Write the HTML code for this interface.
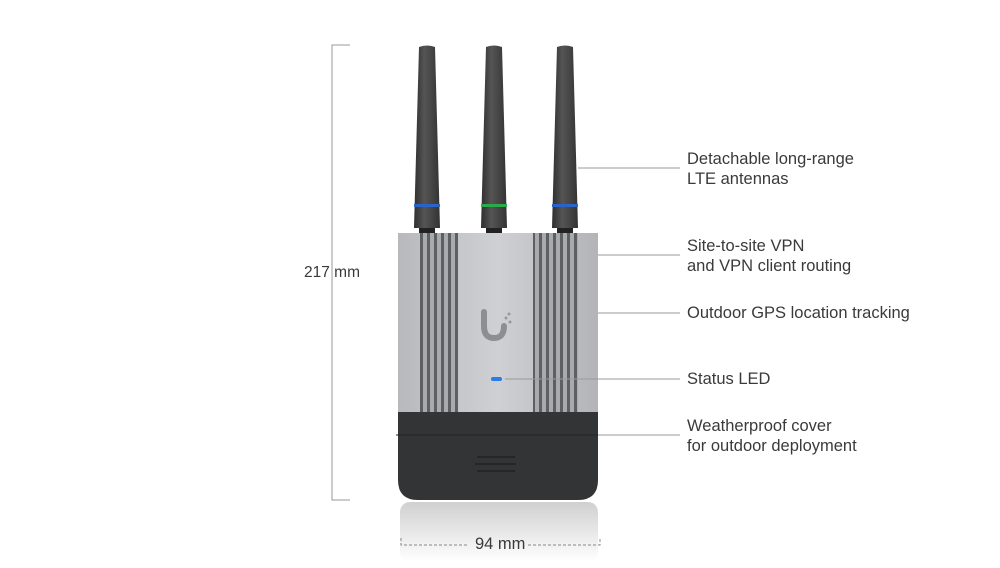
<!DOCTYPE html>
<html><head><style>
body{margin:0;width:1000px;height:568px;background:#fff;position:relative;overflow:hidden;font-family:"Liberation Sans",sans-serif;}
.t{position:absolute;left:687px;font-size:16.5px;color:#3a3a3a;line-height:20px;}
</style></head><body>
<svg width="1000" height="568" style="position:absolute;left:0;top:0">
<defs>
<linearGradient id="ant" x1="0" x2="1"><stop offset="0" stop-color="#2e2e2e"/><stop offset=".4" stop-color="#555"/><stop offset="1" stop-color="#333"/></linearGradient>
<linearGradient id="body" x1="0" x2="1"><stop offset="0" stop-color="#b8b9bc"/><stop offset=".5" stop-color="#cfd0d3"/><stop offset="1" stop-color="#b3b4b7"/></linearGradient>
<linearGradient id="refl" x1="0" y1="0" x2="0" y2="1"><stop offset="0" stop-color="#d0d0d0"/><stop offset="1" stop-color="#fff"/></linearGradient>
<pattern id="fins" width="7" height="10" patternUnits="userSpaceOnUse"><rect width="7" height="10" fill="#a9aaad"/><rect width="3" height="10" fill="#5e5f62"/></pattern>
</defs>
<g stroke="#999" stroke-width="1" fill="none">
<path d="M350 45H332V500H350"/>
</g>
<text x="304" y="277" font-size="15.5" fill="#3a3a3a" font-family="Liberation Sans">217 mm</text>
<rect x="400" y="502" width="198" height="60" fill="url(#refl)" rx="10"/>
<path d="M401 538V545H468M528 545H600V538" stroke="#888" fill="none" stroke-dasharray="3,2"/>
<text x="475" y="549" font-size="16.5" fill="#3a3a3a" font-family="Liberation Sans">94 mm</text>
<g>
<path d="M419 47Q427 44 435 47L440 228H414Z" fill="url(#ant)"/>
<rect x="414" y="204" width="26" height="3" fill="#2a64c8"/>
<rect x="419" y="228" width="16" height="6" fill="#222"/>
<path d="M486 47Q494 44 502 47L507 228H481Z" fill="url(#ant)"/>
<rect x="481" y="204" width="26" height="3" fill="#2aaa4a"/>
<rect x="486" y="228" width="16" height="6" fill="#222"/>
<path d="M557 47Q565 44 573 47L578 228H552Z" fill="url(#ant)"/>
<rect x="552" y="204" width="26" height="3" fill="#2a64c8"/>
<rect x="557" y="228" width="16" height="6" fill="#222"/>
</g>
<rect x="398" y="233" width="200" height="180" fill="url(#body)"/>
<rect x="420" y="233" width="38" height="180" fill="url(#fins)"/>
<rect x="533" y="233" width="45" height="180" fill="url(#fins)"/>
<path d="M484 312V326Q484 338 494 338Q504 338 504 326" stroke="#8d8e91" stroke-width="6" fill="none" stroke-linecap="round"/>
<circle cx="509" cy="314" r="1.5" fill="#999"/><circle cx="506" cy="318" r="1.5" fill="#999"/><circle cx="510" cy="322" r="1.5" fill="#999"/>
<rect x="491" y="377" width="11" height="4" rx="2" fill="#2a7de8"/>
<path d="M398 412H598V480Q598 500 578 500H418Q398 500 398 480Z" fill="#333436"/>
<path d="M396 435H600" stroke="#222" stroke-width="1"/>
<g stroke="#222" stroke-width="1.5"><path d="M477 457H515M475 464H516M477 471H515"/></g>
<g stroke="#999" stroke-width="1">
<path d="M578 168H680M598 255H680M598 313H680M505 379H680M598 435H680"/>
</g>
</svg>
<div class="t" style="top:149px">Detachable long-range<br>LTE antennas</div>
<div class="t" style="top:236px">Site-to-site VPN<br>and VPN client routing</div>
<div class="t" style="top:303px">Outdoor GPS location tracking</div>
<div class="t" style="top:369px">Status LED</div>
<div class="t" style="top:416px">Weatherproof cover<br>for outdoor deployment</div>
</body></html>
